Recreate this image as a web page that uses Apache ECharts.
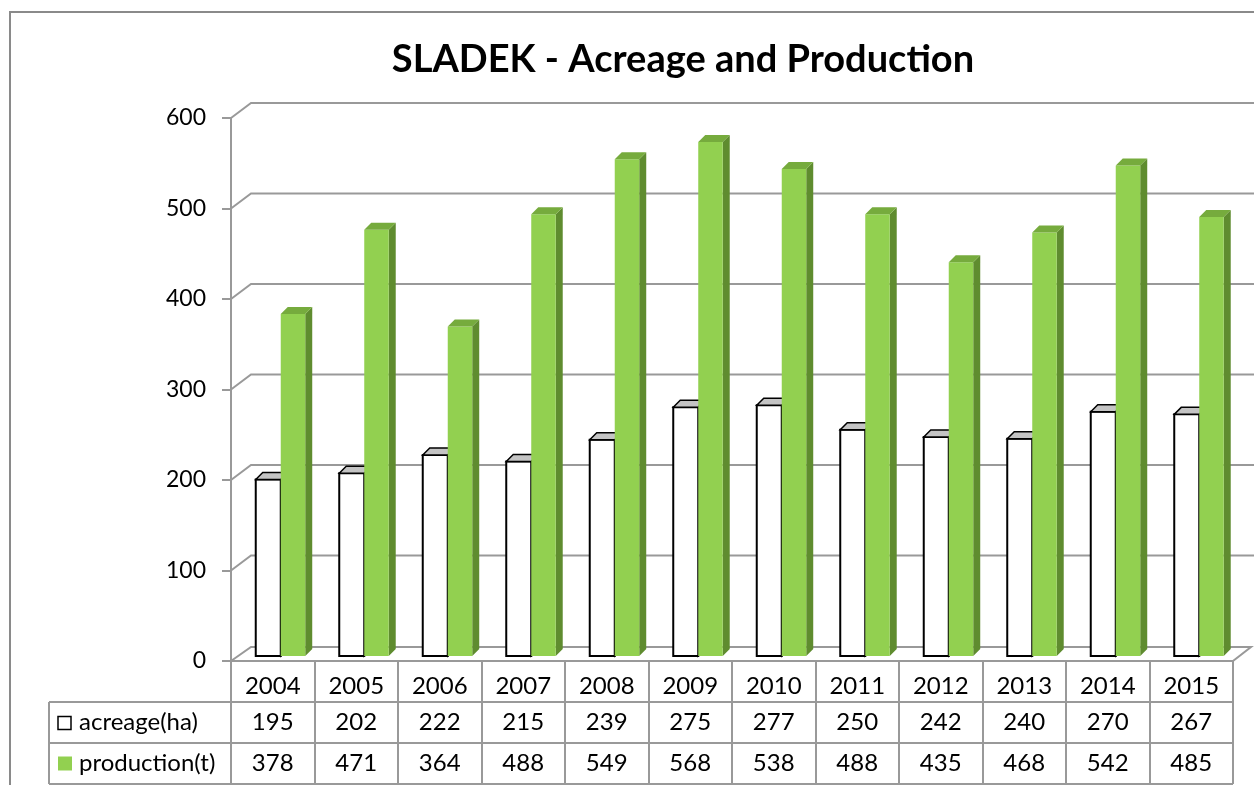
<!DOCTYPE html>
<html>
<head>
<meta charset="utf-8">
<script src="https://cdn.jsdelivr.net/npm/echarts@6/dist/echarts.min.js"></script>
<style>
html,body{margin:0;padding:0;background:#fff;}
#chart{width:1254px;height:785px;}
</style>
</head>
<body>
<div id="chart"></div>
<script>
const titleText = 'SLADEK - Acreage and Production';
const years = ['2004','2005','2006','2007','2008','2009','2010','2011','2012','2013','2014','2015'];
const acreage = [195, 202, 222, 215, 239, 275, 277, 250, 242, 240, 270, 267];
const production = [378, 471, 364, 488, 549, 568, 538, 488, 435, 468, 542, 485];
const yTicks = [0, 100, 200, 300, 400, 500, 600];
const seriesNames = ['acreage(ha)', 'production(t)'];

const FONT = 'Lato';
const GRID_L = 231, GRID_R = 21, GRID_T = 118, GRID_B = 124;
const AXIS_Y = 785 - GRID_B;       // 661
const RIGHT_X = 1254 - GRID_R;     // 1233
const ROW_H = 41;
const DEPTH_X = 20, DEPTH_Y = 15;
const LINE_C = '#999999';
const TABLE_FS = 24;

const chart = echarts.init(document.getElementById('chart'));

function barRenderer(leftFrac, rightFrac, st) {
  return function (params, api) {
    const i = api.value(0), v = api.value(1);
    const c0 = api.coord([i, 0]);
    const c1 = api.coord([i, v]);
    const bw = api.size([1, 0])[0];
    const xl = c0[0] + leftFrac * bw, xr = c0[0] + rightFrac * bw;
    const yb = c0[1] - 5, yt = c1[1] - 5;
    const d = 7;
    return {
      type: 'group',
      children: [
        { type: 'polygon', shape: { points: [[xr, yt], [xr + d, yt - d], [xr + d, yb - d], [xr, yb]] },
          style: { fill: st.side, stroke: st.stroke, lineWidth: st.stroke ? 1.5 : 0 } },
        { type: 'rect', shape: { x: xl, y: yt, width: xr - xl, height: yb - yt },
          style: { fill: st.front, stroke: st.stroke, lineWidth: st.stroke ? 2 : 0 } },
        { type: 'polygon', shape: { points: [[xl, yt], [xr, yt], [xr + d, yt - d], [xl + d, yt - d]] },
          style: { fill: st.top, stroke: st.stroke, lineWidth: st.stroke ? 1.5 : 0 } }
      ]
    };
  };
}

function gridRenderer(params, api) {
  const v = api.value(1);
  const cs = params.coordSys;
  const p = api.coord([0, v]);
  const x0 = cs.x, y = p[1];
  let pts;
  if (v === 0) {
    pts = [[x0, y], [x0 + DEPTH_X, y - DEPTH_Y + 1], [x0 + cs.width + 18, y - DEPTH_Y + 1], [x0 + cs.width, y]];
  } else {
    pts = [[x0, y], [x0 + DEPTH_X, y - DEPTH_Y], [x0 + cs.width + 200, y - DEPTH_Y]];
  }
  return { type: 'polyline', shape: { points: pts }, style: { stroke: LINE_C, lineWidth: 2, fill: null } };
}

function tableRenderer(params, api) {
  const i = api.value(0);
  const c = api.coord([i, 0]);
  return {
    type: 'group',
    children: [
      { type: 'text', x: c[0], y: c[1] + ROW_H * 1.5,
        style: { text: String(acreage[i]), fill: '#000', font: TABLE_FS + 'px ' + FONT, align: 'center', verticalAlign: 'middle' } },
      { type: 'text', x: c[0], y: c[1] + ROW_H * 2.5,
        style: { text: String(production[i]), fill: '#000', font: TABLE_FS + 'px ' + FONT, align: 'center', verticalAlign: 'middle' } }
    ]
  };
}

const tableLeft = 49;
const graphics = [
  { type: 'rect', shape: { x: 10, y: 12, width: 1400, height: 900 }, style: { fill: null, stroke: '#8a8a8a', lineWidth: 2 }, silent: true },
  { type: 'text', x: 683, y: 60, style: { text: titleText, fill: '#000', font: 'bold 38px ' + FONT, align: 'center', verticalAlign: 'middle' } }
];
[1, 2, 3].forEach(function (r) {
  graphics.push({ type: 'line', shape: { x1: tableLeft, y1: AXIS_Y + ROW_H * r, x2: RIGHT_X, y2: AXIS_Y + ROW_H * r }, style: { stroke: LINE_C, lineWidth: 2 } });
});
graphics.push({ type: 'line', shape: { x1: tableLeft, y1: AXIS_Y + ROW_H, x2: tableLeft, y2: AXIS_Y + ROW_H * 3 }, style: { stroke: LINE_C, lineWidth: 2 } });
graphics.push({ type: 'rect', shape: { x: 58, y: AXIS_Y + ROW_H * 1.5 - 6, width: 13, height: 13 }, style: { fill: '#fff', stroke: '#000', lineWidth: 1.5 } });
graphics.push({ type: 'rect', shape: { x: 58, y: AXIS_Y + ROW_H * 2.5 - 7, width: 14, height: 14 }, style: { fill: '#92D050' } });
graphics.push({ type: 'text', x: 79, y: AXIS_Y + ROW_H * 1.5, style: { text: seriesNames[0], fill: '#000', font: TABLE_FS + 'px ' + FONT, verticalAlign: 'middle' } });
graphics.push({ type: 'text', x: 79, y: AXIS_Y + ROW_H * 2.5, style: { text: seriesNames[1], fill: '#000', font: TABLE_FS + 'px ' + FONT, verticalAlign: 'middle' } });

chart.setOption({
  animation: false,
  backgroundColor: '#fff',
  grid: { left: GRID_L, right: GRID_R, top: GRID_T, bottom: GRID_B, containLabel: false },
  xAxis: {
    type: 'category',
    data: years,
    boundaryGap: true,
    axisLine: { show: true, lineStyle: { color: LINE_C, width: 2 } },
    axisTick: { show: true, interval: 0, length: ROW_H * 3, lineStyle: { color: LINE_C, width: 2 } },
    axisLabel: { interval: 0, margin: 13, color: '#000', fontSize: TABLE_FS, fontFamily: FONT },
    splitLine: { show: false }
  },
  yAxis: {
    type: 'value',
    min: 0, max: 600, interval: 100,
    axisLine: { show: true, lineStyle: { color: LINE_C, width: 2 } },
    axisTick: { show: true, length: 9, lineStyle: { color: LINE_C, width: 2 } },
    axisLabel: { margin: 25, color: '#000', fontSize: 23, fontFamily: FONT },
    splitLine: { show: false }
  },
  graphic: graphics,
  series: [
    { type: 'custom', name: 'grid', renderItem: gridRenderer, clip: false, silent: true,
      data: yTicks.map(function (v) { return [0, v]; }) },
    { type: 'custom', name: seriesNames[0], renderItem: barRenderer(-0.2036, 0.0958, { front: '#ffffff', top: '#c4c4c4', side: '#ffffff', stroke: '#000' }),
      clip: false, data: acreage.map(function (v, i) { return [i, v]; }) },
    { type: 'custom', name: seriesNames[1], renderItem: barRenderer(0.0958, 0.389, { front: '#92D050', top: '#76AB3D', side: '#5F8C2F', stroke: null }),
      clip: false, data: production.map(function (v, i) { return [i, v]; }) },
    { type: 'custom', name: 'table', renderItem: tableRenderer, clip: false, silent: true,
      data: years.map(function (y, i) { return [i, 0]; }) }
  ]
});
</script>
</body>
</html>
